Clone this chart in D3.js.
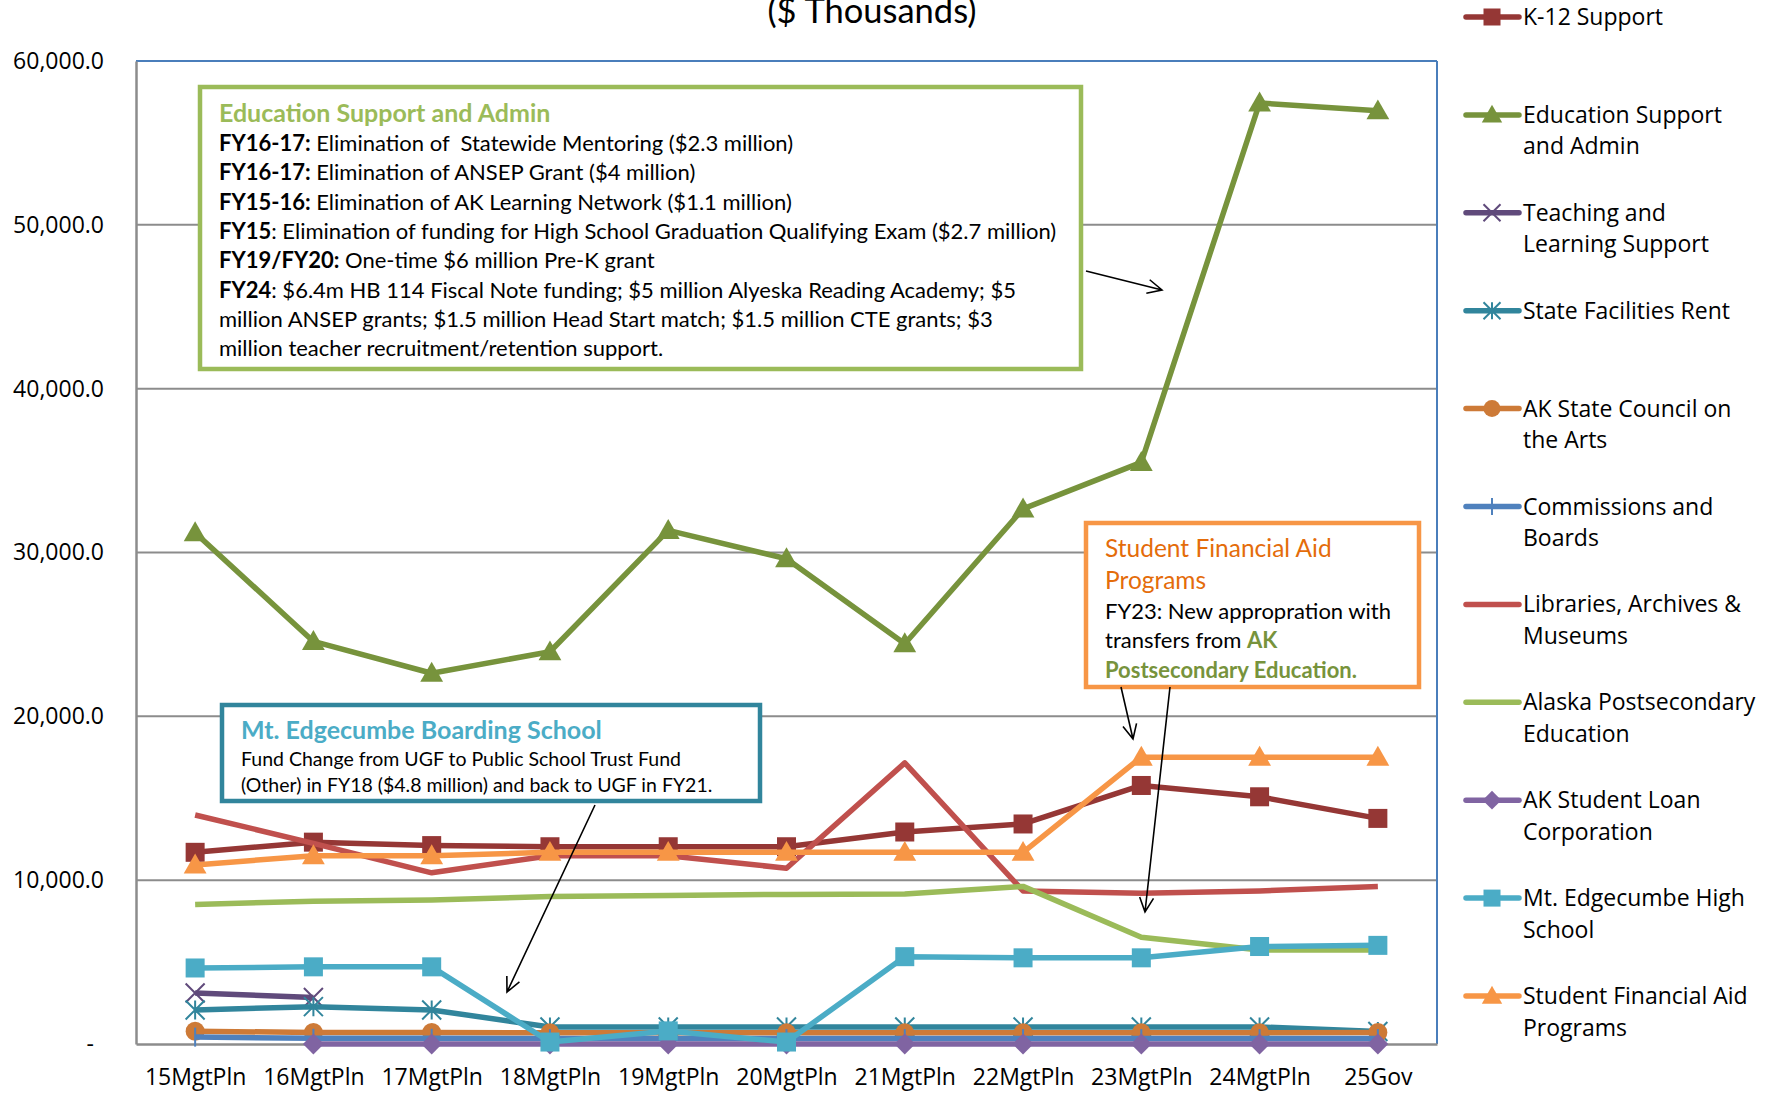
<!DOCTYPE html>
<html>
<head>
<meta charset="utf-8">
<script src="https://cdn.jsdelivr.net/npm/d3@7"></script>
<style>
  body { margin: 0; background: #fff; }
  svg { display: block; }
  .tick-label { font-family: "Open Sans", sans-serif; fill: #000; }
  .note { font-family: Lato, "Noto Sans", sans-serif; }
</style>
</head>
<body>
<svg id="chart"></svg>
<script>
var width = 1777,
    height = 1094;

// categories (x axis)
var years = ['15MgtPln', '16MgtPln', '17MgtPln', '18MgtPln', '19MgtPln', '20MgtPln',
             '21MgtPln', '22MgtPln', '23MgtPln', '24MgtPln', '25Gov'];

// series values, $ thousands (null = no data)
var k12Support      = [11700, 12320, 12110, 12040, 12040, 12040, 12940, 13430, 15780, 15090, 13770];
var eduSupport      = [31210, 24570, 22630, 23940, 31350, 29620, 24430, 32660, 35500, 57440, 56960];
var teachLearning   = [3110, 2840, null, null, null, null, null, null, null, null, null];
var facilitiesRent  = [2080, 2280, 2080, 1040, 1040, 1040, 1040, 1040, 1040, 1040, 760];
var artsCouncil     = [780, 700, 700, 680, 680, 680, 680, 680, 680, 680, 700];
var commissions     = [420, 350, 350, 330, 330, 330, 330, 330, 330, 330, 330];
var libraries       = [13980, 12250, 10450, 11490, 11490, 10730, 17160, 9340, 9200, 9340, 9620];
var postsecondary   = [8510, 8720, 8790, 9000, 9070, 9130, 9160, 9620, 6510, 5740, 5740];
var studentLoan     = [null, 0, 0, 0, 0, 0, 0, 0, 0, 0, 0];
var mtEdgecumbe     = [4640, 4710, 4710, 120, 800, 120, 5330, 5260, 5260, 5950, 6020];
var finAid          = [10930, 11490, 11490, 11700, 11700, 11700, 11700, 11700, 17510, 17510, 17510];

var yTicks = [0, 10000, 20000, 30000, 40000, 50000, 60000];

var series = [
  { name: ['K-12 Support'], values: k12Support, color: '#953735', marker: 'square' },
  { name: ['Education Support', 'and Admin'], values: eduSupport, color: '#77933C', marker: 'triangle' },
  { name: ['Teaching and', 'Learning Support'], values: teachLearning, color: '#604A7B', marker: 'x' },
  { name: ['State Facilities Rent'], values: facilitiesRent, color: '#31859C', marker: 'star' },
  { name: ['AK State Council on', 'the Arts'], values: artsCouncil, color: '#CD7A37', marker: 'circle' },
  { name: ['Commissions and', 'Boards'], values: commissions, color: '#4F81BD', marker: 'plus' },
  { name: ['Libraries, Archives &', 'Museums'], values: libraries, color: '#C0504D', marker: 'none' },
  { name: ['Alaska Postsecondary', 'Education'], values: postsecondary, color: '#9BBB59', marker: 'none' },
  { name: ['AK Student Loan', 'Corporation'], values: studentLoan, color: '#8064A2', marker: 'diamond' },
  { name: ['Mt. Edgecumbe High', 'School'], values: mtEdgecumbe, color: '#4BACC6', marker: 'square' },
  { name: ['Student Financial Aid', 'Programs'], values: finAid, color: '#F79646', marker: 'triangle' }
];

var plot = { left: 136, right: 1437, top: 61, bottom: 1044 };

var x = d3.scalePoint()
    .domain(years)
    .range([plot.left, plot.right])
    .padding(0.5);

var y = d3.scaleLinear()
    .domain([0, 60000])
    .range([plot.bottom, plot.top]);

var svg = d3.select('#chart')
    .attr('width', width)
    .attr('height', height);

// title (cut off at the top in the original)
svg.append('text')
    .attr('x', 872)
    .attr('y', 23)
    .attr('text-anchor', 'middle')
    .style('font-family', 'Lato, sans-serif')
    .style('font-size', '34.5px')
    .text('($ Thousands)');

// gridlines
svg.append('g')
    .selectAll('line')
    .data(yTicks.filter(function (d) { return d > 0 && d < 60000; }))
    .enter().append('line')
    .attr('x1', plot.left)
    .attr('x2', plot.right)
    .attr('y1', function (d) { return y(d); })
    .attr('y2', function (d) { return y(d); })
    .attr('stroke', '#8C8C8C')
    .attr('stroke-width', 2);

// plot border: blue top/right, gray axes left/bottom
svg.append('line')
    .attr('x1', plot.left).attr('x2', plot.right)
    .attr('y1', plot.top).attr('y2', plot.top)
    .attr('stroke', '#4A7EBB').attr('stroke-width', 2);
svg.append('line')
    .attr('x1', plot.right).attr('x2', plot.right)
    .attr('y1', plot.top).attr('y2', plot.bottom)
    .attr('stroke', '#4A7EBB').attr('stroke-width', 2);

// y axis
var yAxis = d3.axisLeft(y)
    .tickValues(yTicks)
    .tickSize(0)
    .tickPadding(32)
    .tickFormat(function (d) { return d === 0 ? '-' : d3.format(',.1f')(d); });

var yg = svg.append('g')
    .attr('transform', 'translate(' + plot.left + ',0)')
    .call(yAxis);
yg.select('.domain').attr('stroke', '#8C8C8C').attr('stroke-width', 2.5);
yg.selectAll('text')
    .attr('class', 'tick-label')
    .style('font-size', '23px')
    .attr('dy', '0.32em');
yg.selectAll('.tick text').filter(function (d) { return d === 0; }).attr('dx', -10);

// x axis
var xAxis = d3.axisBottom(x).tickSize(0).tickPadding(25);
var xg = svg.append('g')
    .attr('transform', 'translate(0,' + plot.bottom + ')')
    .call(xAxis);
xg.select('.domain').attr('stroke', '#8C8C8C').attr('stroke-width', 2.5);
xg.selectAll('text')
    .attr('class', 'tick-label')
    .style('font-size', '23px');

// marker shapes
function drawMarker(sel, type, color, size) {
    var s = size;
    if (type === 'square') {
        sel.append('rect').attr('x', -s / 2).attr('y', -s / 2)
            .attr('width', s).attr('height', s).attr('fill', color);
    } else if (type === 'triangle') {
        sel.append('path').attr('d', 'M0,' + (-s * 0.6) + 'L' + (s * 0.6) + ',' + (s * 0.45) + 'L' + (-s * 0.6) + ',' + (s * 0.45) + 'Z')
            .attr('fill', color);
    } else if (type === 'diamond') {
        sel.append('path').attr('d', 'M0,' + (-s * 0.55) + 'L' + (s * 0.55) + ',0L0,' + (s * 0.55) + 'L' + (-s * 0.55) + ',0Z')
            .attr('fill', color);
    } else if (type === 'circle') {
        sel.append('circle').attr('r', s * 0.5).attr('fill', color);
    } else if (type === 'x') {
        sel.append('path').attr('d', 'M' + (-s / 2) + ',' + (-s / 2) + 'L' + (s / 2) + ',' + (s / 2) + 'M' + (s / 2) + ',' + (-s / 2) + 'L' + (-s / 2) + ',' + (s / 2))
            .attr('stroke', color).attr('stroke-width', 2).attr('fill', 'none');
    } else if (type === 'star') {
        sel.append('path').attr('d', 'M' + (-s / 2) + ',' + (-s / 2) + 'L' + (s / 2) + ',' + (s / 2) + 'M' + (s / 2) + ',' + (-s / 2) + 'L' + (-s / 2) + ',' + (s / 2) + 'M0,' + (-s / 2) + 'L0,' + (s / 2))
            .attr('stroke', color).attr('stroke-width', 2).attr('fill', 'none');
    } else if (type === 'plus') {
        sel.append('path').attr('d', 'M0,' + (-s / 2) + 'L0,' + (s / 2))
            .attr('stroke', color).attr('stroke-width', 2).attr('fill', 'none');
    }
}

var line = d3.line()
    .defined(function (d) { return d != null; })
    .x(function (d, i) { return x(years[i]); })
    .y(function (d) { return y(d); });

var linesLayer = svg.append('g');

series.forEach(function (s) {
    var g = linesLayer.append('g');
    g.append('path')
        .datum(s.values)
        .attr('d', line)
        .attr('fill', 'none')
        .attr('stroke', s.color)
        .attr('stroke-width', 5.5)
        .attr('stroke-linejoin', 'round');

    if (s.marker !== 'none') {
        s.values.forEach(function (v, i) {
            if (v == null) return;
            var m = g.append('g')
                .attr('transform', 'translate(' + x(years[i]) + ',' + y(v) + ')');
            drawMarker(m, s.marker, s.color, 19);
        });
    }
});

// legend
var legend = svg.append('g');
series.forEach(function (s, i) {
    var ly = 17 + i * 97.9;
    var lg = legend.append('g').attr('transform', 'translate(0,' + ly + ')');
    lg.append('line')
        .attr('x1', 1466).attr('x2', 1519)
        .attr('stroke', s.color).attr('stroke-width', 5.5)
        .attr('stroke-linecap', 'round');
    var mg = lg.append('g').attr('transform', 'translate(1492,0)');
    drawMarker(mg, s.marker, s.color, 17);
    lg.append('text')
        .attr('x', 1523)
        .attr('y', 8)
        .style('font-family', '"Open Sans", sans-serif')
        .style('font-size', '23px')
        .selectAll('tspan')
        .data(s.name)
        .enter().append('tspan')
        .attr('x', 1523)
        .attr('dy', function (d, j) { return j === 0 ? 0 : 31.5; })
        .text(function (d) { return d; });
});

// annotations
var notes = svg.append('g').attr('class', 'note');

function arrow(x1, y1, x2, y2) {
    var a = Math.atan2(y2 - y1, x2 - x1), h = 16, w = 0.45;
    notes.append('path')
        .attr('d', 'M' + x1 + ',' + y1 + 'L' + x2 + ',' + y2 +
            'M' + (x2 - h * Math.cos(a - w)) + ',' + (y2 - h * Math.sin(a - w)) + 'L' + x2 + ',' + y2 +
            'L' + (x2 - h * Math.cos(a + w)) + ',' + (y2 - h * Math.sin(a + w)))
        .attr('stroke', '#000').attr('stroke-width', 1.6).attr('fill', 'none');
}

// Education Support and Admin box
notes.append('rect')
    .attr('x', 200).attr('y', 87).attr('width', 881).attr('height', 282)
    .attr('fill', '#fff').attr('stroke', '#9BBB59').attr('stroke-width', 4.5);
notes.append('text')
    .attr('x', 219).attr('y', 122)
    .style('font-size', '25px').style('font-weight', 'bold').attr('fill', '#9BBB59')
    .text('Education Support and Admin');

var eduNotes = [
    ['FY16-17:', ' Elimination of  Statewide Mentoring ($2.3 million)'],
    ['FY16-17:', ' Elimination of ANSEP Grant ($4 million)'],
    ['FY15-16:', ' Elimination of AK Learning Network ($1.1 million)'],
    ['FY15', ': Elimination of funding for High School Graduation Qualifying Exam ($2.7 million)'],
    ['FY19/FY20:', ' One-time $6 million Pre-K grant'],
    ['FY24', ': $6.4m HB 114 Fiscal Note funding; $5 million Alyeska Reading Academy; $5'],
    ['', 'million ANSEP grants; $1.5 million Head Start match; $1.5 million CTE grants; $3'],
    ['', 'million teacher recruitment/retention support.']
];
eduNotes.forEach(function (n, i) {
    var t = notes.append('text')
        .attr('x', 219).attr('y', 151 + i * 29.3)
        .style('font-size', '22px').attr('fill', '#000')
        .attr('xml:space', 'preserve');
    t.append('tspan').style('font-weight', 'bold').text(n[0]);
    t.append('tspan').text(n[1]);
});
arrow(1086, 271, 1162, 290);

// Mt. Edgecumbe box
notes.append('rect')
    .attr('x', 222).attr('y', 705).attr('width', 538).attr('height', 96)
    .attr('fill', '#fff').attr('stroke', '#31859C').attr('stroke-width', 4.5);
notes.append('text')
    .attr('x', 241).attr('y', 739)
    .style('font-size', '25px').style('font-weight', 'bold').attr('fill', '#4BACC6')
    .text('Mt. Edgecumbe Boarding School');
notes.append('text')
    .attr('x', 241).attr('y', 766)
    .style('font-size', '19.5px')
    .text('Fund Change from UGF to Public School Trust Fund');
notes.append('text')
    .attr('x', 241).attr('y', 792)
    .style('font-size', '19.5px')
    .text('(Other) in FY18 ($4.8 million) and back to UGF in FY21.');
arrow(595, 805, 507, 992);

// Student Financial Aid box
notes.append('rect')
    .attr('x', 1086).attr('y', 523).attr('width', 333).attr('height', 164)
    .attr('fill', '#fff').attr('stroke', '#F79646').attr('stroke-width', 4.5);
notes.append('text')
    .attr('x', 1105).attr('y', 557)
    .style('font-size', '24.5px').attr('fill', '#E46C0A')
    .text('Student Financial Aid');
notes.append('text')
    .attr('x', 1105).attr('y', 589)
    .style('font-size', '24.5px').attr('fill', '#E46C0A')
    .text('Programs');
notes.append('text')
    .attr('x', 1105).attr('y', 619)
    .style('font-size', '22px')
    .text('FY23: New appropration with');
var t2 = notes.append('text')
    .attr('x', 1105).attr('y', 648)
    .style('font-size', '22px')
    .attr('xml:space', 'preserve');
t2.append('tspan').text('transfers from ');
t2.append('tspan').style('font-weight', 'bold').attr('fill', '#77933C').text('AK');
notes.append('text')
    .attr('x', 1105).attr('y', 678)
    .style('font-size', '22px').style('font-weight', 'bold').attr('fill', '#77933C')
    .text('Postsecondary Education.');
arrow(1121, 687, 1133, 739);
arrow(1170, 687, 1145, 912);
</script>
</body>
</html>
